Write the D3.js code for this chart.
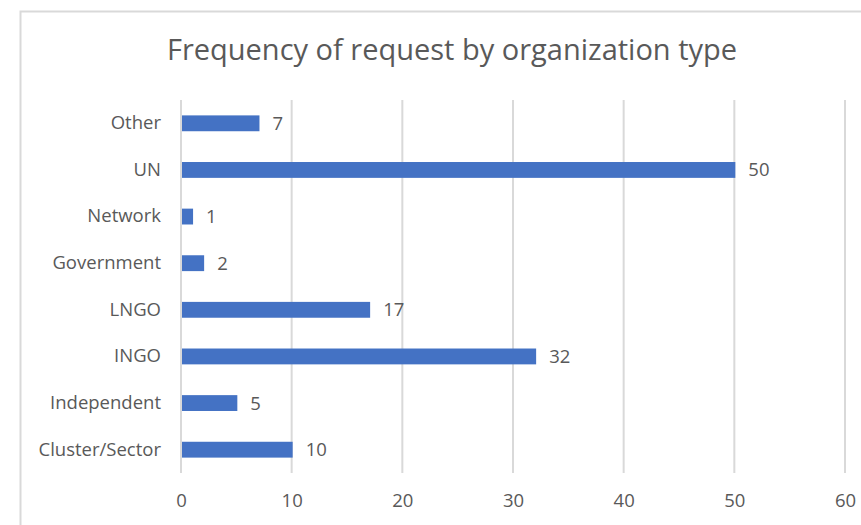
<!DOCTYPE html>
<html>
<head>
<meta charset="utf-8">
<script src="https://cdn.jsdelivr.net/npm/d3@7"></script>
<style>
  body { margin: 0; background: #fff; }
  text { font-family: "Open Sans", sans-serif; fill: #595959; }
</style>
</head>
<body>
<script>
// chart data
var categories = ["Other", "UN", "Network", "Government", "LNGO", "INGO", "Independent", "Cluster/Sector"];
var counts = [7, 50, 1, 2, 17, 32, 5, 10];
var xTicks = [0, 10, 20, 30, 40, 50, 60];
var chartTitle = "Frequency of request by organization type";

var svgWidth = 861, svgHeight = 525;
var margin = { top: 100, right: 16, bottom: 52, left: 181 };
var width = svgWidth - margin.left - margin.right;
var height = svgHeight - margin.top - margin.bottom;

var svg = d3.select("body").append("svg")
  .attr("width", svgWidth)
  .attr("height", svgHeight);

// chart frame
svg.append("rect")
  .attr("x", 20.5).attr("y", 11.5)
  .attr("width", 900).attr("height", 600)
  .attr("fill", "none")
  .attr("stroke", "#d9d9d9")
  .attr("stroke-width", 2);

svg.append("text")
  .attr("x", 452).attr("y", 60)
  .attr("text-anchor", "middle")
  .style("font-size", "29px")
  .text(chartTitle);

var chart = svg.append("g")
  .attr("transform", `translate(${margin.left}, ${margin.top})`);

var x = d3.scaleLinear().domain([0, 60]).range([0, width]);
var y = d3.scaleBand().domain(categories).range([0, height]).paddingInner(0.66).paddingOuter(0.33);

// gridlines
chart.selectAll(".grid")
  .data(xTicks)
  .enter()
  .append("line")
  .attr("x1", d => x(d)).attr("x2", d => x(d))
  .attr("y1", 0).attr("y2", height)
  .attr("stroke", "#d9d9d9")
  .attr("stroke-width", 2);

// x axis labels
var bottomAxis = d3.axisBottom(x).tickValues(xTicks).tickSize(0).tickPadding(21);
var xAxis = chart.append("g")
  .attr("transform", `translate(0, ${height})`)
  .call(bottomAxis);
xAxis.select(".domain").remove();
xAxis.selectAll("text").style("font-size", "18.5px").attr("fill", "#595959");

// y axis labels
var leftAxis = d3.axisLeft(y).tickSize(0).tickPadding(20);
var yAxis = chart.append("g").call(leftAxis);
yAxis.select(".domain").remove();
yAxis.selectAll("text").style("font-size", "18.5px").attr("fill", "#595959");

var rows = categories.map((c, i) => ({ cat: c, val: counts[i] }));

chart.selectAll(".bar")
  .data(rows)
  .enter()
  .append("rect")
  .attr("x", x(0) + 1)
  .attr("y", d => y(d.cat))
  .attr("width", d => x(d.val) - x(0))
  .attr("height", y.bandwidth())
  .attr("fill", "#4472c4");

chart.selectAll(".val")
  .data(rows)
  .enter()
  .append("text")
  .attr("x", d => x(d.val) + 14)
  .attr("y", d => y(d.cat) + y.bandwidth() / 2)
  .attr("dy", "0.35em")
  .style("font-size", "18.5px")
  .text(d => d.val);
</script>
</body>
</html>
